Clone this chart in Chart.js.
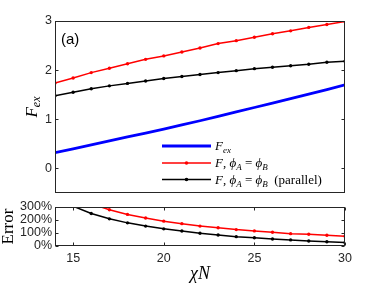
<!DOCTYPE html>
<html>
<head>
<meta charset="utf-8">
<script src="https://cdn.jsdelivr.net/npm/chart.js@4.4.1/dist/chart.umd.min.js"></script>
<style>
  html, body { margin: 0; padding: 0; background: #fff; }
  #wrap { position: relative; width: 382px; height: 286px; }
  .pane { position: absolute; left: 0; top: 0; width: 382px; height: 286px; }
</style>
</head>
<body>
<div id="wrap">
  <div class="pane"><canvas id="topChart"></canvas></div>
  <div class="pane"><canvas id="errChart"></canvas></div>
</div>
<script>
// chi*N values (x axis)
const chiN = [14, 15, 16, 17, 18, 19, 20, 21, 22, 23, 24, 25, 26, 27, 28, 29, 30];

// top panel
const fExact    = [0.32, 0.40, 0.48, 0.56, 0.64, 0.72, 0.80, 0.885, 0.97, 1.06, 1.15, 1.24, 1.33, 1.42, 1.51, 1.605, 1.70];
const fEqual    = [1.74, 1.84, 1.95, 2.04, 2.13, 2.22, 2.29, 2.37, 2.45, 2.54, 2.60, 2.67, 2.74, 2.80, 2.87, 2.93, 2.99];
const fParallel = [1.48, 1.55, 1.62, 1.68, 1.73, 1.78, 1.83, 1.87, 1.91, 1.95, 1.99, 2.03, 2.06, 2.09, 2.12, 2.16, 2.18];

// bottom panel, error in %
const errEqual    = [480, 390, 325, 279, 243, 215, 191, 172, 153, 140, 126, 116, 106, 95, 90, 83, 75];
const errParallel = [380, 306, 250, 209, 178, 153, 132, 115, 98, 85, 72, 64, 54, 47, 39, 33, 26];

// ticks
const xTicks = [15, 20, 25, 30];
const yTicksTop = [0, 1, 2, 3];
const yTicksErr = [0, 100, 200, 300];

const AXIS = '#262626';
const SANS = '"Liberation Sans", Arial, Helvetica, sans-serif';
const SERIF = '"Liberation Serif", "Times New Roman", serif';

const pts = (ys) => chiN.map((x, i) => ({ x: x, y: ys[i] }));

// draw text made of pieces with different fonts / offsets
function drawRich(ctx, x, y, parts) {
    parts.forEach(([t, f, dy]) => {
        ctx.font = f;
        ctx.fillText(t, x, y + (dy || 0));
        x += ctx.measureText(t).width;
    });
    return x;
}
function richWidth(ctx, parts) {
    let w = 0;
    parts.forEach(([t, f]) => { ctx.font = f; w += ctx.measureText(t).width; });
    return w;
}

// box round the axes with inward tick marks (MATLAB style)
function framePlugin(showXTicks) {
    return {
        id: 'frame',
        afterDraw(chart) {
            const { ctx, chartArea: a, scales } = chart;
            const L = Math.round(a.left) + 0.5, R = Math.round(a.right) - 0.5;
            const T = Math.round(a.top) + 0.5, B = Math.round(a.bottom) - 0.5;
            const tl = 3;
            ctx.save();
            ctx.strokeStyle = AXIS;
            ctx.lineWidth = 1;
            ctx.strokeRect(L, T, R - L, B - T);
            ctx.beginPath();
            scales.y.ticks.forEach(t => {
                const py = Math.round(scales.y.getPixelForValue(t.value)) + 0.5;
                ctx.moveTo(L, py); ctx.lineTo(L + tl, py);
                ctx.moveTo(R, py); ctx.lineTo(R - tl, py);
            });
            if (showXTicks) {
                xTicks.forEach(v => {
                    const px = Math.round(scales.x.getPixelForValue(v)) + 0.5;
                    ctx.moveTo(px, B); ctx.lineTo(px, B - tl);
                    ctx.moveTo(px, T); ctx.lineTo(px, T + tl);
                });
            }
            ctx.stroke();
            ctx.restore();
        }
    };
}

const topLabels = {
    id: 'topLabels',
    afterDraw(chart) {
        const { ctx, chartArea: a } = chart;
        ctx.save();
        ctx.fillStyle = '#000';
        ctx.textBaseline = 'alphabetic';

        // panel tag
        ctx.font = '15px ' + SANS;
        ctx.fillText('(a)', 61, 44);

        // y title F_ex (rotated)
        const yParts = [['F', 'italic 17px ' + SERIF, 0], ['ex', 'italic 12px ' + SERIF, 3]];
        ctx.save();
        ctx.translate(37, (a.top + a.bottom) / 2);
        ctx.rotate(-Math.PI / 2);
        drawRich(ctx, -richWidth(ctx, yParts) / 2, 0, yParts);
        ctx.restore();

        // legend
        const main = 'italic 13px ' + SERIF, rom = '13px ' + SERIF, sub = 'italic 9px ' + SERIF;
        const rows = [
            { color: '#0000ff', w: 2.8, dot: false, y: 146,
              parts: [['F', main, 0], ['ex', sub, 3]] },
            { color: '#ff0000', w: 1.5, dot: true, y: 163,
              parts: [['F', main, 0], [', ', rom, 0], ['\u03D5', main, 0], ['A', sub, 3], [' = ', rom, 0], ['\u03D5', main, 0], ['B', sub, 3]] },
            { color: '#000000', w: 1.5, dot: true, y: 179.5,
              parts: [['F', main, 0], [', ', rom, 0], ['\u03D5', main, 0], ['A', sub, 3], [' = ', rom, 0], ['\u03D5', main, 0], ['B', sub, 3], ['  (parallel)', rom, 0]] }
        ];
        rows.forEach(r => {
            ctx.strokeStyle = r.color;
            ctx.lineWidth = r.w;
            ctx.beginPath();
            ctx.moveTo(162, r.y); ctx.lineTo(211, r.y);
            ctx.stroke();
            if (r.dot) {
                ctx.fillStyle = r.color;
                ctx.beginPath(); ctx.arc(186.5, r.y, 1.8, 0, Math.PI * 2); ctx.fill();
            }
            ctx.fillStyle = '#000';
            drawRich(ctx, 215, r.y + 4, r.parts);
        });
        ctx.restore();
    }
};

const errLabels = {
    id: 'errLabels',
    afterDraw(chart) {
        const { ctx, chartArea: a } = chart;
        ctx.save();
        ctx.fillStyle = '#000';
        // y title
        ctx.save();
        ctx.translate(13, (a.top + a.bottom) / 2);
        ctx.rotate(-Math.PI / 2);
        ctx.font = '17px ' + SERIF;
        ctx.textAlign = 'center';
        ctx.textBaseline = 'alphabetic';
        ctx.fillText('Error', 0, 0);
        ctx.restore();
        // x title
        const xParts = [['\u03C7N', 'italic 18px ' + SERIF, 0]];
        drawRich(ctx, 200 - richWidth(ctx, xParts) / 2, 279, xParts);
        ctx.restore();
    }
};

const lineDs = (label, ys, color, width, radius) => ({
    label: label,
    data: pts(ys),
    borderColor: color,
    backgroundColor: color,
    borderWidth: width,
    pointRadius: radius,
    pointBorderWidth: 0,
    pointBackgroundColor: color,
    tension: 0,
    clip: 0
});

const tickFont = { family: SANS, size: 12.5, lineHeight: 1 };

new Chart(document.getElementById('topChart'), {
    type: 'line',
    data: {
        datasets: [
            lineDs('F_ex', fExact, '#0000ff', 2.8, 0),
            lineDs('F, phiA = phiB', fEqual, '#ff0000', 1.5, 1.7),
            lineDs('F, phiA = phiB (parallel)', fParallel, '#000000', 1.5, 1.7)
        ]
    },
    options: {
        responsive: true,
        maintainAspectRatio: false,
        animation: false,
        events: [],
        layout: { padding: { left: 0, right: 37, top: 21, bottom: 93 } },
        plugins: { legend: { display: false }, tooltip: { enabled: false } },
        scales: {
            x: {
                type: 'linear', min: 14, max: 30,
                grid: { display: false, drawTicks: false },
                border: { display: false },
                ticks: { display: false },
                afterFit(s) { s.height = 0; }
            },
            y: {
                type: 'linear', min: -0.5, max: 3,
                grid: { display: false, drawTicks: false },
                border: { display: false },
                ticks: { padding: 3, font: tickFont, color: AXIS, autoSkip: false },
                afterBuildTicks(s) { s.ticks = yTicksTop.map(v => ({ value: v })); },
                afterFit(s) { s.width = 55; }
            }
        }
    },
    plugins: [framePlugin(false), topLabels]
});

new Chart(document.getElementById('errChart'), {
    type: 'line',
    data: {
        datasets: [
            lineDs('F, phiA = phiB', errEqual, '#ff0000', 1.5, 1.7),
            lineDs('F, phiA = phiB (parallel)', errParallel, '#000000', 1.5, 1.7)
        ]
    },
    options: {
        responsive: true,
        maintainAspectRatio: false,
        animation: false,
        events: [],
        layout: { padding: { left: 0, right: 37, top: 207, bottom: 0 } },
        plugins: { legend: { display: false }, tooltip: { enabled: false } },
        scales: {
            x: {
                type: 'linear', min: 14, max: 30,
                grid: { display: false, drawTicks: false },
                border: { display: false },
                ticks: { padding: 6, font: tickFont, color: AXIS, maxRotation: 0, autoSkip: false },
                afterBuildTicks(s) { s.ticks = xTicks.map(v => ({ value: v })); },
                afterFit(s) { s.height = 40; }
            },
            y: {
                type: 'linear', min: 0, max: 300,
                grid: { display: false, drawTicks: false },
                border: { display: false },
                ticks: { padding: 3, font: tickFont, color: AXIS, autoSkip: false, callback: v => v + '%' },
                afterBuildTicks(s) { s.ticks = yTicksErr.map(v => ({ value: v })); },
                afterFit(s) { s.width = 55; }
            }
        }
    },
    plugins: [framePlugin(true), errLabels]
});
</script>
</body>
</html>
